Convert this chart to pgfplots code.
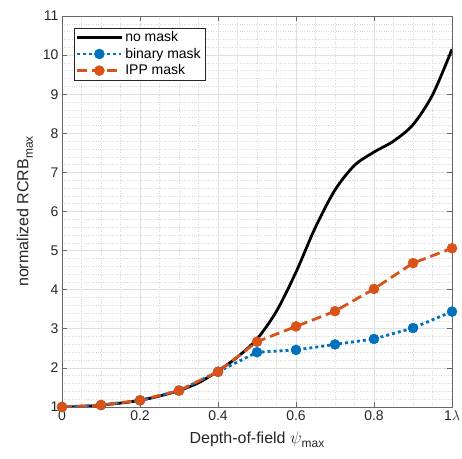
\documentclass[border=0pt]{standalone}
\usepackage{pgfplots}
\pgfplotsset{compat=1.18}
\usepackage{fontspec}
\setmainfont{Liberation Sans}
\definecolor{mblue}{rgb}{0,0.447,0.741}
\definecolor{morange}{rgb}{0.85,0.325,0.098}
\definecolor{axgray}{rgb}{0.15,0.15,0.15}
\definecolor{gridgray}{rgb}{0.88,0.88,0.88}
\pgfplotstableread{
x y
0    1.00
0.05 1.01
0.1  1.05
0.15 1.10
0.2  1.17
0.25 1.28
0.3  1.42
0.35 1.62
0.4  1.92
0.45 2.28
0.5  2.74
0.55 3.45
0.6  4.45
0.65 5.60
0.7  6.55
0.75 7.18
0.8  7.52
0.85 7.80
0.9  8.22
0.95 8.98
1.0  10.15
}\nomask
\pgfplotstableread{
x y
0   1.00
0.1 1.05
0.2 1.17
0.3 1.42
0.4 1.90
0.5 2.40
0.6 2.46
0.7 2.60
0.8 2.74
0.9 3.02
1.0 3.44
}\binary
\pgfplotstableread{
x y
0   1.00
0.1 1.05
0.2 1.17
0.3 1.42
0.4 1.90
0.5 2.67
0.6 3.06
0.7 3.45
0.8 4.02
0.9 4.68
1.0 5.06
}\ipp
\begin{document}
\begin{tikzpicture}
\begin{axis}[name=ax,
  scale only axis, width=390pt, height=391pt,
  xmin=0, xmax=1, ymin=1, ymax=11,
  xtick={0,0.2,0.4,0.6,0.8,1},
  xticklabels={0,0.2,0.4,0.6,0.8,1$\lambda$},
  ytick={1,2,...,11},
  minor x tick num=3, minor y tick num=4,
  grid=both,
  major grid style={solid, color=gridgray, line width=0.6pt},
  minor grid style={dotted, color=gray!30, line width=0.5pt},
  axis line style={color=gray!80!black, line width=0.6pt},
  major tick length=5pt, minor tick length=0pt,
  tick style={color=gray!80!black, line width=0.6pt},
  tick align=inside,
  ticklabel style={font=\fontsize{14}{16}\selectfont, color=axgray},
  /pgf/number format/assume math mode=true,
  xlabel={Depth-of-field $\psi$\raisebox{-4.5pt}{\fontsize{12}{12}\selectfont max}},
  ylabel={normalized RCRB\raisebox{-4.5pt}{\fontsize{12}{12}\selectfont max}},
  label style={font=\fontsize{16}{18}\selectfont, color=axgray},
  xlabel style={yshift=-4pt},
  ylabel style={yshift=3pt},
  legend cell align=left,
  legend style={at={(0.03,0.97)}, anchor=north west,
    font=\fontsize{14}{16}\selectfont, draw=axgray, line width=0.6pt,
    inner xsep=2pt, inner ysep=1pt, row sep=0pt,
    nodes={inner sep=2.5pt}},
  legend image code/.code={\draw[mark repeat=2, mark phase=2, #1] plot coordinates {(0pt,0pt) (22pt,0pt) (44pt,0pt)};},
]
\addplot[black, line width=2.8pt, smooth, tension=0.5] table {\nomask};
\addlegendentry{no mask}
\addplot[mblue, line width=2.8pt, dash pattern=on 3pt off 3pt, mark=*, mark size=5pt, mark options={solid, fill=mblue, draw=mblue, line width=0.5pt}] table {\binary};
\addlegendentry{binary mask}
\addplot[morange, line width=2.8pt, dash pattern=on 10pt off 5pt, mark=*, mark size=5pt, mark options={solid, fill=morange, draw=morange, line width=0.5pt}] table {\ipp};
\addlegendentry{IPP mask}
\end{axis}
\pgfresetboundingbox
\path (ax.south west) +(-62pt,-52pt) (ax.north east) +(10pt,16pt);
\end{tikzpicture}
\end{document}
